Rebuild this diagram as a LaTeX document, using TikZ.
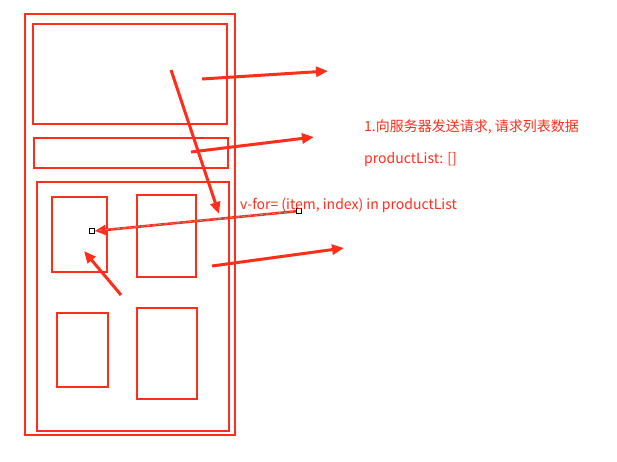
\documentclass[tikz,border=0pt]{standalone}
\usepackage{fontspec}
\setmainfont{Noto Sans CJK SC}
\usetikzlibrary{arrows.meta}
\definecolor{lred}{HTML}{FF2E1A}
\begin{document}
\begin{tikzpicture}[x=1pt,y=-1pt,
  frame/.style={draw=lred,line width=2pt},
  arr/.style={draw=lred,line width=3pt,-{Triangle[length=12pt,width=10pt]}},
  lbl/.style={text=lred,font=\fontsize{14}{16}\selectfont,anchor=west,inner sep=0pt},
  handle/.style={draw=black,fill=white,line width=0.6pt,minimum size=5pt,inner sep=0pt}]
\useasboundingbox (0,0) rectangle (617,461);
% frames
\draw[frame] (25,14) rectangle (235,435);
\draw[frame] (33,24) rectangle (227,124);
\draw[frame] (34,138) rectangle (228,168);
\draw[frame] (37,182) rectangle (229,431);
\draw[frame] (52,197) rectangle (107,272);
\draw[frame] (137,195) rectangle (196,277);
\draw[frame] (57,313) rectangle (108,387);
\draw[frame] (137,308) rectangle (197,399);
% arrow endpoints
\coordinate (a1s) at (202,79);  \coordinate (a1e) at (328,71);
\coordinate (a2s) at (191,152); \coordinate (a2e) at (314,137);
\coordinate (a3s) at (171,70);  \coordinate (a3e) at (219,214);
\coordinate (a4s) at (212,266); \coordinate (a4e) at (344,248);
\coordinate (a5s) at (121,295); \coordinate (a5e) at (84,251);
% arrows
\draw[arr] (a1s) -- (a1e);
\draw[arr] (a2s) -- (a2e);
\draw[arr] (a3s) -- (a3e);
\draw[arr] (a4s) -- (a4e);
\draw[arr] (a5s) -- (a5e);
% selected connector
\node[handle] (h1) at (299,211) {};
\node[handle] (h2) at (92,231) {};
\draw[draw=lred,line width=2.6pt,-{Triangle[length=11pt,width=10pt]}] (h1.center) -- (h2.east);
\draw[draw=gray!80,line width=0.8pt,dashed] (h1.center) -- (h2.center);
\node[handle] at (h1) {};
\node[handle] at (h2) {};
% texts
\node[lbl] (t1) at (364,127) {1.向服务器发送请求, 请求列表数据};
\node[lbl] (t2) at (364,160) {productList: []};
\node[lbl] (t3) at (240,205) {v-for= (item, index) in productList};
\end{tikzpicture}
\end{document}
